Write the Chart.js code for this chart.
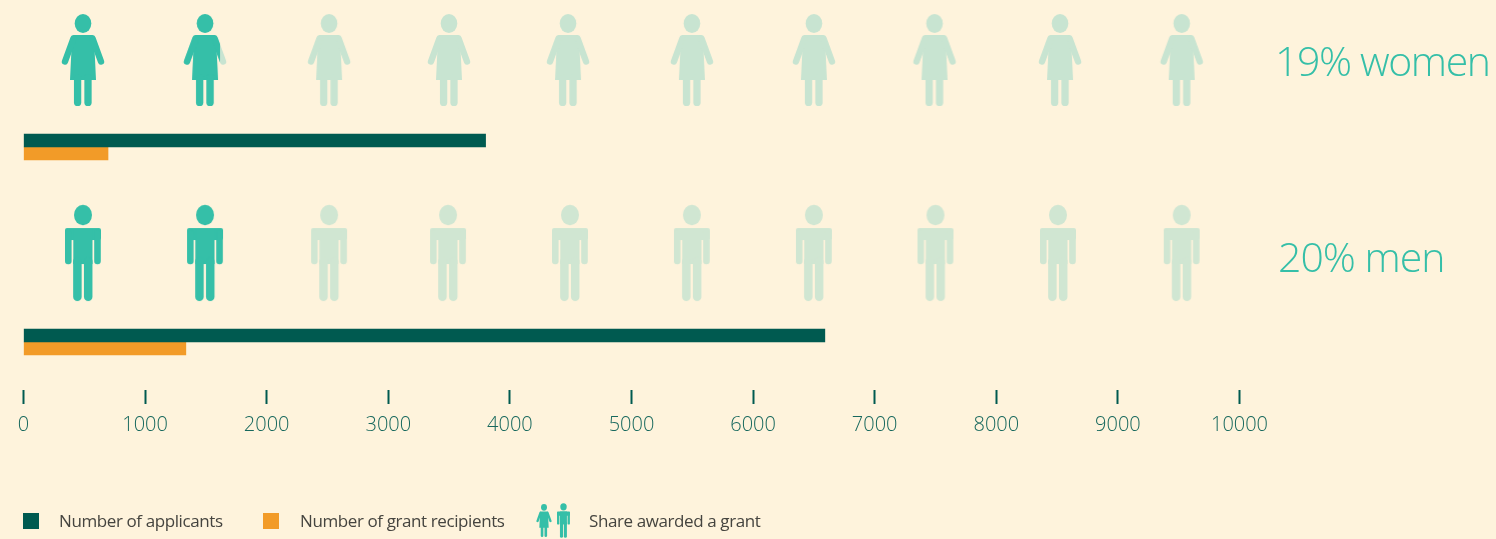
<!DOCTYPE html>
<html>
<head>
<meta charset="utf-8">
<style>html,body{margin:0;padding:0;background:#FEF3DC;overflow:hidden}canvas{display:block}</style>
<script src="https://cdn.jsdelivr.net/npm/chart.js@4"></script>
</head>
<body>
<canvas id="c" width="1496" height="539"></canvas>
<script>
const categories = ["Women", "Men"];
const applicants = [3800, 6590];
const recipients = [695, 1335];
const awardLabels = ["19% women", "20% men"];
const womenIconX = [489, 1493, 2513, 3499, 4478, 5497, 6500, 7492, 8524, 9525];
const menIconX = [489, 1493, 2513, 3491, 4494, 5497, 6500, 7500, 8507, 9525];
const womenIconRow = -0.359;
const menIconRow = 0.631;
const xTicks = [0, 1000, 2000, 3000, 4000, 5000, 6000, 7000, 8000, 9000, 10000];
const legendNames = ["Number of applicants", "Number of grant recipients", "Share awarded a grant"];

const BG = "#FEF3DC", TEAL = "#35BFA8", FADED = "#C8E4D1", FADED_MAN = "#D0E6D2", DARK = "#005A50", ORANGE = "#F29B28";

function womanPath(g) {
  g.beginPath(); g.ellipse(0, -36.5, 8.3, 9.5, 0, 0, Math.PI * 2); g.fill();
  g.beginPath();
  g.moveTo(-9, -25); g.lineTo(9, -25); g.quadraticCurveTo(11, -25, 11, -22);
  g.lineTo(13, 20); g.lineTo(-13, 20); g.lineTo(-11, -22); g.quadraticCurveTo(-11, -25, -9, -25);
  g.closePath(); g.fill();
  g.lineCap = "round";
  g.lineWidth = 6.4;
  g.beginPath(); g.moveTo(-9.6, -21.5); g.lineTo(-18, 1.5); g.stroke();
  g.beginPath(); g.moveTo(9.6, -21.5); g.lineTo(18, 1.5); g.stroke();
  g.lineWidth = 7.3;
  g.beginPath(); g.moveTo(-5.4, 18); g.lineTo(-5.4, 42.4); g.stroke();
  g.beginPath(); g.moveTo(5, 18); g.lineTo(5, 42.4); g.stroke();
}
function manPath(g) {
  g.beginPath(); g.ellipse(0, -38, 9, 10.2, 0, 0, Math.PI * 2); g.fill();
  g.beginPath(); g.roundRect(-18, -25, 36, 12, 2); g.fill();
  g.fillRect(-9.7, -25, 19.2, 36);
  g.lineCap = "round";
  g.lineWidth = 6.6;
  g.beginPath(); g.moveTo(-14.7, -20); g.lineTo(-14.7, 8); g.stroke();
  g.beginPath(); g.moveTo(14.5, -20); g.lineTo(14.5, 8); g.stroke();
  g.lineWidth = 8.5;
  g.beginPath(); g.moveTo(-5.6, 8); g.lineTo(-5.6, 43.7); g.stroke();
  g.beginPath(); g.moveTo(5.2, 8); g.lineTo(5.2, 43.7); g.stroke();
}
function paint(g, path, color) { g.fillStyle = color; g.strokeStyle = color; path(g); }
function makeIcon(path, color, under, cut) {
  const cv = document.createElement("canvas");
  cv.width = 60; cv.height = 170;
  const g = cv.getContext("2d");
  g.translate(30, 55);
  if (under) paint(g, path, under);
  if (cut !== undefined) { g.beginPath(); g.rect(-30, -55, 30 + cut, 110); g.clip(); }
  paint(g, path, color);
  return cv;
}
const womanOn = makeIcon(womanPath, TEAL);
const womanOff = makeIcon(womanPath, FADED);
const womanPart = makeIcon(womanPath, TEAL, FADED, 15);
const manOn = makeIcon(manPath, TEAL);
const manOff = makeIcon(manPath, FADED_MAN);

const paper = {
  id: "paper",
  beforeDraw(chart) {
    const g = chart.ctx;
    g.save(); g.fillStyle = BG; g.fillRect(0, 0, chart.width, chart.height); g.restore();
  },
  afterDraw(chart) {
    const g = chart.ctx;
    g.save();
    g.textBaseline = "alphabetic";
    g.fillStyle = TEAL;
    g.font = '300 41px "Open Sans"';
    g.textAlign = "left";
    g.letterSpacing = "-1.4px";
    g.fillText(awardLabels[0], 1275, 76);
    g.letterSpacing = "-1px";
    g.fillText(awardLabels[1], 1278, 272);

    g.fillStyle = DARK; g.fillRect(23, 513, 16, 16);
    g.fillStyle = ORANGE; g.fillRect(263, 513, 16, 16);
    g.fillStyle = "#45443F";
    g.font = '400 17px "Open Sans"';
    g.letterSpacing = "-0.4px";
    g.fillText(legendNames[0], 59, 527);
    g.fillText(legendNames[1], 300, 527);
    g.fillText(legendNames[2], 589, 527);
    g.letterSpacing = "0px";

    g.save(); g.translate(544, 520.5); g.scale(0.36, 0.36); paint(g, womanPath, TEAL); g.restore();
    g.save(); g.translate(563.5, 520.5); g.scale(0.36, 0.36); paint(g, manPath, TEAL); g.restore();
    g.restore();
  }
};

const iconDataset = (xs, row, styles) => ({
  type: "scatter",
  label: "Share awarded a grant",
  data: xs.map(x => ({ x: x, y: row })),
  yAxisID: "yIcons",
  pointStyle: styles,
  pointRadius: 20,
  pointHoverRadius: 20,
  showLine: false,
  clip: false,
  order: 3
});

new Chart(document.getElementById("c"), {
  type: "bar",
  plugins: [paper],
  data: {
    labels: categories,
    datasets: [
      { label: legendNames[0], data: applicants, backgroundColor: DARK, barThickness: 13, borderWidth: 0, order: 1 },
      { label: legendNames[1], data: recipients, backgroundColor: ORANGE, barThickness: 13, borderWidth: 0, order: 2 },
      iconDataset(womenIconX, womenIconRow, [womanOn, womanPart, womanOff, womanOff, womanOff, womanOff, womanOff, womanOff, womanOff, womanOff]),
      iconDataset(menIconX, menIconRow, [manOn, manOn, manOff, manOff, manOff, manOff, manOff, manOff, manOff, manOff])
    ]
  },
  options: {
    indexAxis: "y",
    responsive: false,
    animation: false,
    devicePixelRatio: 1,
    layout: { padding: { left: 23.5, right: 256.5, top: 62.5, bottom: 86.5 } },
    plugins: { legend: { display: false }, tooltip: { enabled: false }, title: { display: false } },
    scales: {
      y: { type: "category", display: false, offset: true, grid: { display: false } },
      yIcons: { type: "linear", display: false, offset: false, min: -0.5, max: 1.5, reverse: true, grid: { display: false } },
      x: {
        type: "linear",
        min: 0,
        max: 10000,
        position: { y: 1.1795 },
        border: { display: false },
        afterBuildTicks(axis) { axis.ticks = xTicks.map(v => ({ value: v })); },
        grid: { drawOnChartArea: false, drawTicks: true, tickLength: 14, tickWidth: 2, tickColor: DARK },
        ticks: {
          autoSkip: false,
          maxRotation: 0,
          padding: 9,
          color: "#17685D",
          font: { family: "Open Sans", size: 20, weight: 300 },
          callback: v => String(v)
        }
      }
    }
  }
});
</script>
</body>
</html>
